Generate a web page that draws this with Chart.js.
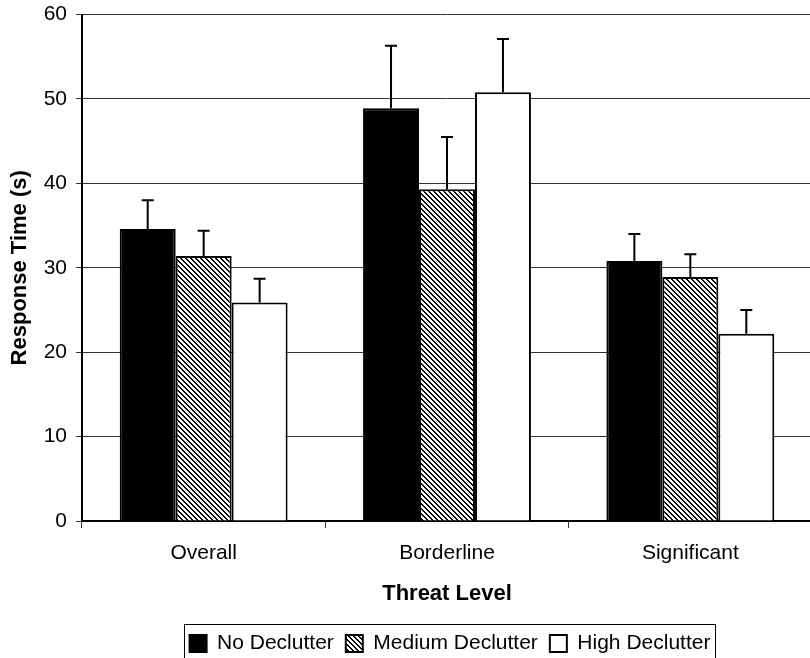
<!DOCTYPE html>
<html>
<head>
    <title>Response Time by Threat Level</title>
    <script src="https://cdn.jsdelivr.net/npm/chart.js"></script>
    <style>
        html, body { margin: 0; padding: 0; background: #fff; overflow: hidden; }
        #wrap { position: relative; width: 812px; height: 679px; margin-top: -7px; }
    </style>
</head>
<body>
    <div id="wrap"><canvas id="rtChart"></canvas></div>

    <script>
        // chart values
        var categories = ['Overall', 'Borderline', 'Significant'];
        var seriesNames = ['No Declutter', 'Medium Declutter', 'High Declutter'];
        var noDeclutter = [34.6, 48.9, 30.8];
        var mediumDeclutter = [31.4, 39.3, 28.9];
        var highDeclutter = [25.9, 50.8, 22.2];
        // upper error bar length
        var noDeclutterErr = [3.4, 7.4, 3.2];
        var mediumDeclutterErr = [3.0, 6.2, 2.7];
        var highDeclutterErr = [2.8, 6.3, 2.8];
        var yTicks = [0, 10, 20, 30, 40, 50, 60];

        Chart.defaults.font.family = '"Liberation Sans", Arial, sans-serif';
        Chart.defaults.color = '#000';

        // diagonal hatch for medium declutter
        function makeHatch() {
            var c = document.createElement('canvas');
            c.width = 5; c.height = 5;
            var g = c.getContext('2d');
            g.fillStyle = '#fff';
            g.fillRect(0, 0, 5, 5);
            g.fillStyle = '#000';
            for (var i = 0; i < 5; i++) {
                g.fillRect(i, i, 1, 1);
                g.fillRect((i + 1) % 5, i, 1, 1);
            }
            return document.createElement('canvas').getContext('2d').createPattern(c, 'repeat');
        }
        var hatch = makeHatch();

        // draws the upward error whiskers
        var errorBars = {
            id: 'errorBars',
            afterDatasetsDraw: function(chart) {
                var ctx = chart.ctx;
                var yScale = chart.scales.y;
                ctx.save();
                ctx.strokeStyle = '#000';
                ctx.lineWidth = 2;
                chart.data.datasets.forEach(function(ds, di) {
                    var meta = chart.getDatasetMeta(di);
                    meta.data.forEach(function(bar, i) {
                        var top = yScale.getPixelForValue(ds.data[i] + ds.errUp[i]);
                        ctx.beginPath();
                        ctx.moveTo(bar.x, bar.y);
                        ctx.lineTo(bar.x, top);
                        ctx.moveTo(bar.x - 6, top);
                        ctx.lineTo(bar.x + 6, top);
                        ctx.stroke();
                    });
                });
                ctx.restore();
            }
        };

        // legend sits right of centre in the original, with a box round it
        var legendFrame = {
            id: 'legendFrame',
            afterLayout: function(chart) {
                chart.legend.left += 44;
                chart.legend.right += 44;
            },
            afterDraw: function(chart) {
                var boxes = chart.legend.legendHitBoxes;
                if (!boxes || !boxes.length) return;
                var first = boxes[0], last = boxes[boxes.length - 1];
                var ctx = chart.ctx;
                ctx.save();
                ctx.strokeStyle = '#000';
                ctx.lineWidth = 1;
                ctx.strokeRect(Math.round(first.left) - 5.5, Math.round(first.top) - 8.5,
                    Math.round(last.left + last.width - first.left) + 10, 60);
                ctx.restore();
            }
        };

        var ctx = document.getElementById('rtChart').getContext('2d');
        var chart = new Chart(ctx, {
            type: 'bar',
            data: {
                labels: categories,
                datasets: [{
                    label: seriesNames[0],
                    data: noDeclutter,
                    errUp: noDeclutterErr,
                    backgroundColor: '#000',
                    borderColor: '#000',
                    borderWidth: 2
                }, {
                    label: seriesNames[1],
                    data: mediumDeclutter,
                    errUp: mediumDeclutterErr,
                    backgroundColor: hatch,
                    borderColor: '#000',
                    borderWidth: 2
                }, {
                    label: seriesNames[2],
                    data: highDeclutter,
                    errUp: highDeclutterErr,
                    backgroundColor: '#fff',
                    borderColor: '#000',
                    borderWidth: 2
                }]
            },
            options: {
                responsive: true,
                maintainAspectRatio: false,
                animation: false,
                categoryPercentage: 0.69,
                barPercentage: 1.0,
                layout: { padding: { top: 7, bottom: 8, left: 0, right: 0 } },
                plugins: {
                    tooltip: { enabled: false },
                    legend: {
                        position: 'bottom',
                        labels: {
                            boxWidth: 17,
                            boxHeight: 17,
                            padding: 12,
                            font: { size: 21 },
                            color: '#000'
                        }
                    }
                },
                scales: {
                    x: {
                        grid: {
                            offset: true,
                            drawOnChartArea: false,
                            drawTicks: true,
                            tickLength: 7,
                            color: '#333'
                        },
                        border: { color: '#000', width: 2 },
                        ticks: { font: { size: 21 }, padding: 13, color: '#000' },
                        title: {
                            display: true,
                            text: 'Threat Level',
                            font: { size: 22, weight: 'bold', lineHeight: 1.2 },
                            padding: { top: 0, bottom: 14 },
                            color: '#000'
                        },
                        afterFit: function(scale) { scale.height = 100; }
                    },
                    y: {
                        min: 0,
                        max: 60,
                        afterBuildTicks: function(scale) {
                            scale.ticks = yTicks.map(function(v) { return { value: v }; });
                        },
                        grid: {
                            color: '#333',
                            lineWidth: 1,
                            tickLength: 6
                        },
                        border: { color: '#000', width: 2 },
                        ticks: { font: { size: 21 }, padding: 9, color: '#000' },
                        title: {
                            display: true,
                            text: 'Response Time (s)',
                            font: { size: 22, weight: 'bold', lineHeight: 1.2 },
                            padding: { top: 7, bottom: 0 },
                            color: '#000'
                        },
                        afterFit: function(scale) { scale.width = 82; }
                    }
                }
            },
            plugins: [errorBars, legendFrame]
        });
    </script>
</body>
</html>
